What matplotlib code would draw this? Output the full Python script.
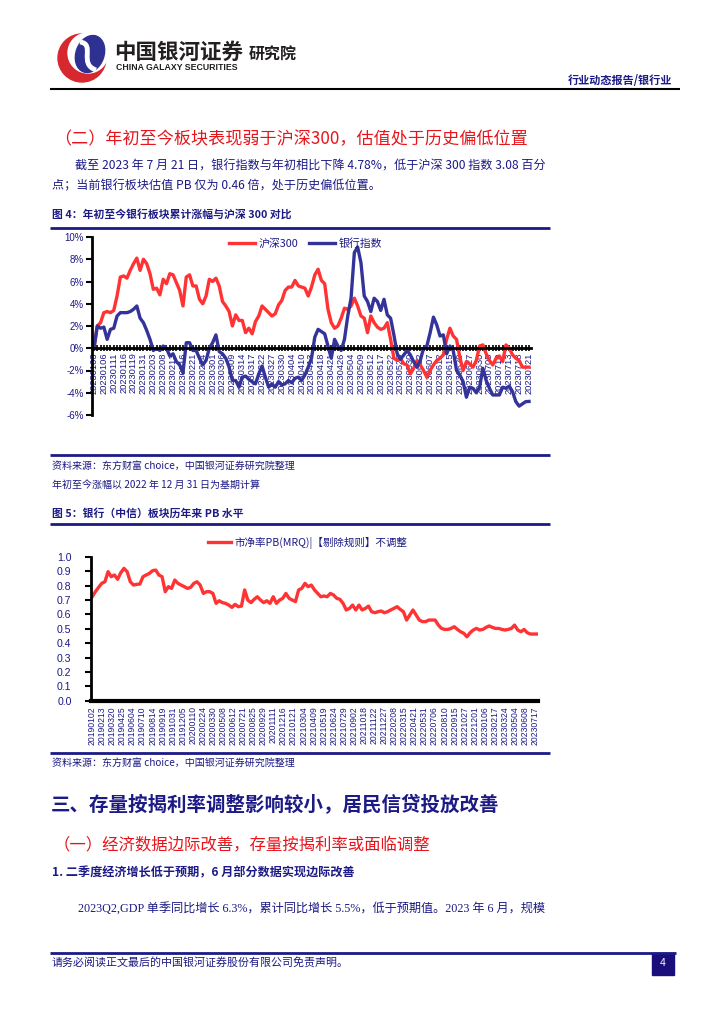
import matplotlib
matplotlib.use('Agg')
import matplotlib.pyplot as plt
import numpy as np
from matplotlib.patches import Circle, Ellipse, Rectangle, PathPatch
from matplotlib.path import Path

CJK = ['Noto Sans CJK SC', 'DejaVu Sans']
plt.rcParams['font.family'] = CJK
plt.rcParams['axes.unicode_minus'] = False

# ---------------- data ----------------
c1_ticklabels = ['20230103', '20230106', '20230111', '20230116', '20230119', '20230131', '20230203',
                 '20230208', '20230213', '20230216', '20230221', '20230224', '20230301', '20230306',
                 '20230309', '20230314', '20230317', '20230322', '20230327', '20230330', '20230404',
                 '20230410', '20230413', '20230418', '20230421', '20230426', '20230504', '20230509',
                 '20230512', '20230517', '20230522', '20230525', '20230530', '20230602', '20230607',
                 '20230612', '20230615', '20230620', '20230627', '20230630', '20230705', '20230710',
                 '20230713', '20230718', '20230721']
c1_series_names = ['沪深300', '银行指数']
hs300 = [0.0, 2.0, 2.3, 3.2, 3.3, 3.2, 3.4, 4.7, 6.4, 6.5,
         6.3, 7.0, 7.6, 8.1, 7.0, 8.0, 7.6, 6.7, 5.3, 5.4,
         4.8, 6.2, 5.8, 6.7, 6.6, 5.9, 5.2, 3.8, 6.4, 6.6,
         5.6, 5.6, 4.4, 4.0, 4.7, 6.2, 6.0, 6.3, 5.6, 4.2,
         3.8, 3.3, 2.0, 3.0, 2.5, 2.5, 1.4, 1.8, 1.3, 2.4,
         2.9, 3.8, 3.5, 3.2, 2.9, 3.1, 3.9, 4.3, 5.2, 5.5,
         5.5, 6.1, 5.6, 5.5, 5.4, 4.7, 5.5, 6.6, 7.1, 6.1,
         5.8, 3.5, 2.3, 1.8, 2.0, 2.7, 3.6, 3.5, 3.8, 4.5,
         3.8, 2.9, 2.7, 1.4, 2.9, 2.3, 1.9, 1.7, 1.8, 2.3,
         0.8, -0.9, -1.1, -0.9, -1.4, -1.5, -2.3, -1.8, -1.1, -1.5,
         -2.0, -2.6, -2.0, -1.5, -1.1, -0.9, -0.6, 0.8, 1.8, 1.1,
         0.8, -0.8, -2.0, -1.2, -1.4, -1.7, -1.1, 0.2, 0.3, -0.5,
         -1.1, -1.5, -0.9, -0.7, -1.2, 0.3, 0.0, -0.6, -0.9, -1.1,
         -1.7, -1.7, -1.70]
bank = [0.0, 2.0, 1.8, 1.9, 0.8, 1.7, 1.8, 2.9, 3.2, 3.2,
        3.2, 3.3, 3.5, 3.8, 2.7, 2.3, 1.6, 0.8, -0.2, 0.0,
        -0.2, 0.2, 0.0, -0.7, -0.5, -1.2, -1.5, -2.2, 0.5, 0.5,
        -0.2, -0.2, -0.9, -1.5, -1.1, 0.0, 0.5, 1.2, -0.3, -0.5,
        -0.9, -1.7, -2.9, -2.9, -3.5, -2.6, -2.5, -2.8, -3.0, -3.2,
        -2.3, -1.6, -2.6, -3.5, -3.2, -3.5, -3.0, -3.3, -3.2, -2.9,
        -3.1, -2.7, -2.6, -2.9, -2.4, -1.7, -0.9, 1.0, 1.7, 1.5,
        1.3, 0.2, -0.9, 0.8, 0.2, -0.2, 0.8, 2.9, 4.5, 8.6,
        9.1, 7.7, 4.7, 4.2, 3.3, 4.5, 4.2, 3.4, 4.4, 3.0,
        2.7, 1.2, -0.5, -1.0, -0.6, -0.2, -0.6, -1.2, -1.7, -1.1,
        0.0, 0.2, 1.4, 2.8, 2.1, 1.1, 1.2, -0.5, 0.2, -0.2,
        -2.0, -2.4, -3.0, -4.4, -3.5, -3.6, -4.0, -3.5, -1.8, -2.9,
        -3.6, -4.2, -4.2, -4.2, -3.5, -3.6, -3.4, -3.9, -4.8, -5.2,
        -5.0, -4.8, -4.78]
c1_yticks = [-6, -4, -2, 0, 2, 4, 6, 8, 10]

pb_ticklabels = ['20190102', '20190213', '20190320', '20190425', '20190604', '20190710', '20190814',
                 '20190919', '20191031', '20191205', '20200110', '20200224', '20200330', '20200508',
                 '20200612', '20200721', '20200825', '20200929', '20201111', '20201216', '20210121',
                 '20210304', '20210409', '20210519', '20210624', '20210729', '20210902', '20211018',
                 '20211122', '20211227', '20220208', '20220315', '20220421', '20220531', '20220706',
                 '20220810', '20220915', '20221027', '20221201', '20230106', '20230217', '20230324',
                 '20230504', '20230608', '20230717']
pb_name = '市净率PB(MRQ)|【剔除规则】不调整'
pb_values = [0.722, 0.757, 0.787, 0.815, 0.826, 0.896, 0.861, 0.873, 0.843, 0.889,
             0.919, 0.896, 0.826, 0.803, 0.808, 0.810, 0.861, 0.873, 0.884, 0.903,
             0.907, 0.873, 0.861, 0.757, 0.792, 0.780, 0.838, 0.815, 0.803, 0.792,
             0.780, 0.787, 0.815, 0.826, 0.803, 0.745, 0.757, 0.757, 0.745, 0.676,
             0.694, 0.681, 0.676, 0.664, 0.648, 0.669, 0.653, 0.657, 0.769, 0.699,
             0.681, 0.704, 0.722, 0.699, 0.681, 0.694, 0.676, 0.722, 0.676, 0.699,
             0.711, 0.745, 0.711, 0.699, 0.688, 0.769, 0.780, 0.815, 0.792, 0.803,
             0.769, 0.745, 0.722, 0.727, 0.722, 0.745, 0.734, 0.711, 0.704, 0.676,
             0.630, 0.641, 0.664, 0.630, 0.664, 0.630, 0.641, 0.657, 0.618, 0.611,
             0.618, 0.623, 0.611, 0.618, 0.630, 0.641, 0.653, 0.634, 0.618, 0.560,
             0.595, 0.630, 0.595, 0.560, 0.549, 0.549, 0.560, 0.560, 0.560, 0.525,
             0.502, 0.495, 0.495, 0.502, 0.514, 0.495, 0.479, 0.468, 0.444, 0.472,
             0.491, 0.502, 0.491, 0.495, 0.509, 0.519, 0.509, 0.502, 0.502, 0.495,
             0.491, 0.495, 0.502, 0.525, 0.491, 0.479, 0.495, 0.472, 0.463, 0.463, 0.463]
pb_tick_step = 25          # trading days between labelled ticks
pb_total_days = 1105       # trading days 2019-01-02 .. 2023-07-21
pb_yticks = [0.0, 0.1, 0.2, 0.3, 0.4, 0.5, 0.6, 0.7, 0.8, 0.9, 1.0]

# ---------------- styling ----------------
RED = '#FF3333'
BLUE = '#333399'
NAVY = '#1C1A85'
DARK = '#231F20'
HRED = '#E8141B'
W, H = 724, 1024

fig = plt.figure(figsize=(7.24, 10.24), dpi=100)
bg = fig.add_axes([0, 0, 1, 1])
bg.set_xlim(0, W)
bg.set_ylim(H, 0)
bg.axis('off')


def rect(x0, y0, x1, y1):
    return [x0 / W, 1 - y1 / H, (x1 - x0) / W, (y1 - y0) / H]


def hline(y, x0, x1, color, lw):
    bg.plot([x0, x1], [y, y], color=color, lw=lw, solid_capstyle='butt')


# ---------------- header ----------------
bg.add_patch(Circle((82, 58), 24, color='#D7282F'))
bg.add_patch(Circle((88, 53), 20, color='white'))
bg.add_patch(Ellipse((90, 54), 28, 38, angle=20, color='#2E3192'))
s_path = Path([(80, 42), (96, 44), (78, 64), (96, 70)],
              [Path.MOVETO, Path.CURVE4, Path.CURVE4, Path.CURVE4])
bg.add_patch(PathPatch(s_path, fill=False, ec='white', lw=3.5))
bg.text(114, 52, '中国银河证券', fontsize=15.5, fontweight='bold', color=DARK, va='center', ha='left')
bg.text(116, 68, 'CHINA GALAXY SECURITIES', fontsize=6.3, fontweight='bold', color=DARK,
        va='center', ha='left', family=['Liberation Sans', 'DejaVu Sans'])
bg.text(249, 55, '研究院', fontsize=11.5, fontweight='bold', color=DARK, va='center', ha='left')
bg.text(672, 80, '行业动态报告/银行业', fontsize=8, fontweight='bold', color=NAVY, va='center', ha='right')
hline(88.5, 50, 680, 'black', 1.5)

# ---------------- section text ----------------
bg.text(54, 139, '（二）年初至今板块表现弱于沪深300，估值处于历史偏低位置', fontsize=12.3,
        color=HRED, va='center', ha='left')
bg.text(75, 166, '截至 2023 年 7 月 21 日，银行指数与年初相比下降 4.78%，低于沪深 300 指数 3.08 百分',
        fontsize=8.7, color=NAVY, va='center', ha='left')
bg.text(52, 186, '点；当前银行板块估值 PB 仅为 0.46 倍，处于历史偏低位置。',
        fontsize=8.7, color=NAVY, va='center', ha='left')
bg.text(52, 214, '图 4：年初至今银行板块累计涨幅与沪深 300 对比', fontsize=7.8, fontweight='bold',
        color=NAVY, va='center', ha='left')
hline(227.5, 50, 550, NAVY, 2)

# ---------------- chart 1 ----------------
ax1 = fig.add_axes(rect(92, 237, 531, 415))
x1 = np.arange(len(hs300))
ax1.plot(x1, hs300, color=RED, lw=2.4, label=c1_series_names[0], solid_joinstyle='round')
ax1.plot(x1, bank, color=BLUE, lw=2.4, label=c1_series_names[1], solid_joinstyle='round')
ax1.set_xlim(-0.6, len(hs300) - 0.4)
ax1.set_ylim(c1_yticks[0], c1_yticks[-1])
for s in ['top', 'right']:
    ax1.spines[s].set_visible(False)
ax1.spines['left'].set_linewidth(2)
ax1.spines['bottom'].set_position(('data', 0))
ax1.spines['bottom'].set_linewidth(2)
ax1.set_xticks(np.arange(0, len(hs300), 3))
ax1.set_xticklabels(c1_ticklabels, rotation=90, fontsize=6.7, color=NAVY,
                    family=['Liberation Sans', 'DejaVu Sans'])
ax1.set_xticks(np.arange(len(hs300)), minor=True)
ax1.tick_params(axis='x', which='both', direction='inout', length=4, width=1.2, pad=1)
ax1.set_yticks(c1_yticks)
ax1.set_yticklabels([f'{v}%' for v in c1_yticks], fontsize=7, color=NAVY,
                    family=['Liberation Sans', 'DejaVu Sans'])
ax1.tick_params(axis='y', direction='out', length=4, width=1.5, pad=2)
ax1.patch.set_alpha(0)
ax1.legend(loc='center left', bbox_to_anchor=(0.30, 0.965), ncol=2, frameon=False,
           fontsize=7.8, handlelength=2.4, handletextpad=0.3, columnspacing=1.0,
           borderpad=0, labelcolor=NAVY)

# ---------------- notes ----------------
hline(454.5, 50, 550, NAVY, 2)
bg.text(52, 466, '资料来源：东方财富 choice，中国银河证券研究院整理', fontsize=7.2, color=NAVY,
        va='center', ha='left', style='italic')
bg.text(52, 485, '年初至今涨幅以 2022 年 12 月 31 日为基期计算', fontsize=7.2, color=NAVY,
        va='center', ha='left', style='italic')
bg.text(52, 513, '图 5：银行（中信）板块历年来 PB 水平', fontsize=7.8, fontweight='bold',
        color=NAVY, va='center', ha='left')
hline(523.5, 50, 550, NAVY, 2)

# ---------------- chart 2 ----------------
ax2 = fig.add_axes(rect(91, 556.7, 538, 700.7))
xp = np.linspace(0, pb_total_days - 1, len(pb_values))
ax2.plot(xp, pb_values, color=RED, lw=2.4, label=pb_name, solid_joinstyle='round')
ax2.set_xlim(-3, pb_total_days + 2)
ax2.set_ylim(pb_yticks[0], pb_yticks[-1])
for s in ['top', 'right']:
    ax2.spines[s].set_visible(False)
ax2.spines['left'].set_linewidth(2)
ax2.spines['bottom'].set_linewidth(3)
ax2.set_xticks(np.arange(len(pb_ticklabels)) * pb_tick_step)
ax2.set_xticklabels(pb_ticklabels, rotation=90, fontsize=6.2, color=NAVY,
                    family=['Liberation Sans', 'DejaVu Sans'])
ax2.tick_params(axis='x', length=0, pad=4)
ax2.set_yticks(pb_yticks)
ax2.set_yticklabels([f'{v:.1f}' for v in pb_yticks], fontsize=7.6, color=NAVY,
                    family=['Liberation Sans', 'DejaVu Sans'])
ax2.tick_params(axis='y', direction='out', length=4, width=1.5, pad=10)
ax2.patch.set_alpha(0)
ax2.legend(loc='center left', bbox_to_anchor=(0.25, 1.095), frameon=False, fontsize=7.6,
           handlelength=2.2, handletextpad=0.3, borderpad=0, labelcolor=NAVY)

hline(752.5, 50, 550, NAVY, 2)
bg.text(52, 763, '资料来源：东方财富 choice，中国银河证券研究院整理', fontsize=7.2, color=NAVY,
        va='center', ha='left', style='italic')

# ---------------- following section ----------------
bg.text(51, 805, '三、存量按揭利率调整影响较小，居民信贷投放改善', fontsize=14, fontweight='bold',
        color=NAVY, va='center', ha='left')
bg.text(54, 845, '（一）经济数据边际改善，存量按揭利率或面临调整', fontsize=11.8,
        color=HRED, va='center', ha='left')
bg.text(52, 873, '1. 二季度经济增长低于预期，6 月部分数据实现边际改善', fontsize=8.7, fontweight='bold',
        color=NAVY, va='center', ha='left')
bg.text(78, 908, '2023Q2,GDP 单季同比增长 6.3%，累计同比增长 5.5%，低于预期值。2023 年 6 月，规模',
        fontsize=8.75, color=NAVY, va='center', ha='left',
        family=['Liberation Serif', 'Noto Sans CJK SC'])

# ---------------- footer ----------------
hline(952.5, 50, 676, NAVY, 2)
bg.text(52, 962, '请务必阅读正文最后的中国银河证券股份有限公司免责声明。', fontsize=7.9, color=NAVY,
        va='center', ha='left')
bg.add_patch(Rectangle((652, 953), 22, 22, color='#1A0F7A'))
bg.text(663, 963, '4', fontsize=7.5, color='white', va='center', ha='center',
        family=['Liberation Sans', 'DejaVu Sans'])

fig.savefig('out.png', dpi=100)
